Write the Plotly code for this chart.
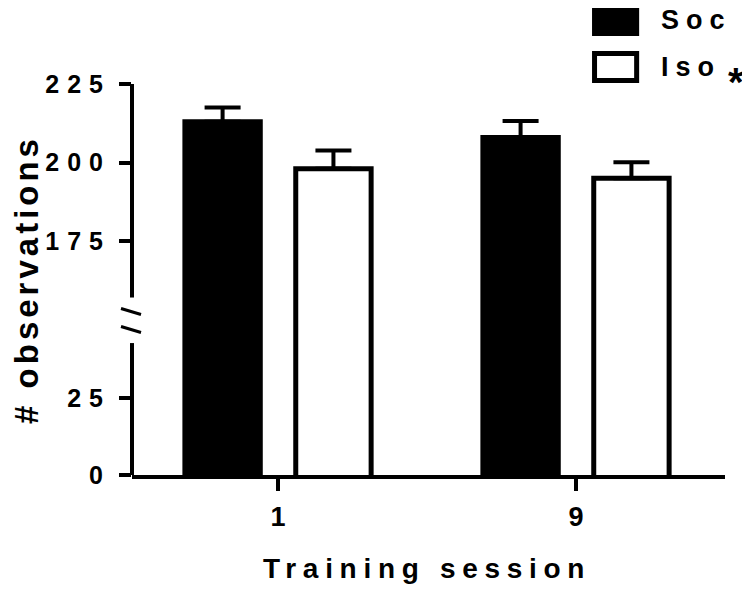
import plotly.graph_objects as go

# data
sessions = ["1", "9"]
soc_mean = [213, 208]
soc_err = [4.5, 5.2]
iso_mean = [198, 195]
iso_err = [5.8, 5.1]
legend_labels = ["Soc", "Iso"]
iso_mark = "*"

lower_ticks = [0, 25]
upper_ticks = [175, 200, 225]
lower_end = 42.7      # top of lower axis segment
upper_start = 157     # bottom of upper axis segment

FONT = "Liberation Sans, Arial, sans-serif"


def spaced(text, px):
    return f'<span style="letter-spacing:{px}px">{text}</span>'


def bold(size):
    return dict(family=FONT, size=size, color="black", weight="bold")


fig = go.Figure()
fig.add_trace(go.Bar(
    x=sessions, y=soc_mean, name=legend_labels[0], yaxis="y2",
    marker=dict(color="black", line=dict(color="black", width=5)),
    error_y=dict(type="data", array=soc_err, arrayminus=[0, 0], symmetric=False,
                 thickness=4, width=18, color="black"),
))
fig.add_trace(go.Bar(
    x=sessions, y=iso_mean, name=legend_labels[1], yaxis="y2",
    marker=dict(color="white", line=dict(color="black", width=5)),
    error_y=dict(type="data", array=iso_err, arrayminus=[0, 0], symmetric=False,
                 thickness=4, width=18, color="black"),
))

ytick = dict(ticks="outside", ticklen=12, tickwidth=4, tickcolor="black",
             tickfont=bold(25), ticklabelstandoff=3,
             showline=False, showgrid=False, zeroline=False, automargin=False)

# page body adds an 8px offset, margins compensate for it
fig.update_layout(
    width=750, height=593,
    margin=dict(l=124, r=33, t=76, b=126),
    paper_bgcolor="white", plot_bgcolor="white",
    showlegend=False,
    barmode="group", bargap=0.256, bargroupgap=0.32,
    xaxis=dict(
        type="category", range=[-0.49, 1.5], automargin=False,
        showline=True, linewidth=4, linecolor="black",
        ticks="outside", ticklen=12, tickwidth=4, tickcolor="black",
        tickfont=bold(27), ticklabelstandoff=3,
        showgrid=False, zeroline=False,
    ),
    yaxis=dict(
        range=[0, 391 / 3.09],
        tickvals=lower_ticks, ticktext=[spaced(str(v), 8) for v in lower_ticks],
        **ytick,
    ),
    yaxis2=dict(
        overlaying="y", side="left", anchor="x",
        range=[225 - 391 / 3.14, 225],
        tickvals=upper_ticks, ticktext=[spaced(str(v), 8) for v in upper_ticks],
        **ytick,
    ),
)

# axis titles
fig.add_annotation(xref="paper", yref="paper", x=0.497, y=-0.238,
                   xanchor="center", yanchor="middle", showarrow=False,
                   text=spaced("Training session", 6.7), font=bold(28))
fig.add_annotation(xref="paper", yref="paper", x=-0.178, y=0.50, textangle=-90,
                   xanchor="center", yanchor="middle", showarrow=False,
                   text=spaced("# observations", 4), font=bold(33))

# broken y axis: two segments plus break marks
axis_line = dict(color="black", width=4)
fig.add_shape(type="line", xref="paper", yref="y", x0=0, x1=0, y0=0, y1=lower_end, line=axis_line)
fig.add_shape(type="line", xref="paper", yref="y2", x0=0, x1=0, y0=upper_start, y1=225, line=axis_line)
for dy in (12, -6):
    fig.add_shape(type="line", xref="paper", yref="y", xsizemode="pixel", ysizemode="pixel",
                  xanchor=0, yanchor=50, x0=-11, x1=9, y0=dy, y1=dy - 6,
                  line=dict(color="black", width=3))

# legend drawn by hand (large swatches)
swatch_fill = ["black", "white"]
swatch_top = [1.198, 1.078]
for lab, fill, top in zip(legend_labels, swatch_fill, swatch_top):
    fig.add_shape(type="rect", xref="paper", yref="paper",
                  x0=0.780, x1=0.851, y0=top - 0.069, y1=top,
                  fillcolor=fill, line=dict(color="black", width=5))
    fig.add_annotation(xref="paper", yref="paper", x=0.889, y=top - 0.0345,
                       xanchor="left", yanchor="middle", showarrow=False,
                       text=spaced(lab, 7), font=bold(27))
fig.add_annotation(xref="paper", yref="paper", x=1.018, y=1.005,
                   xanchor="center", yanchor="middle", showarrow=False,
                   text=iso_mark, font=bold(40))

fig.write_html("out.html")
